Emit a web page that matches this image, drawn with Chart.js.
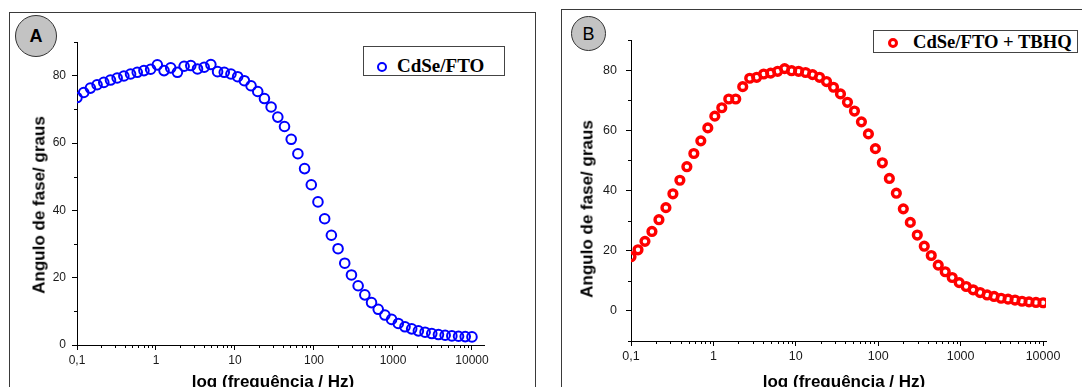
<!DOCTYPE html>
<html>
<head>
<meta charset="utf-8">
<script src="https://cdn.jsdelivr.net/npm/chart.js@4.4.1/dist/chart.umd.min.js"></script>
<style>
html,body{margin:0;padding:0;background:#fff;width:1082px;height:387px;overflow:hidden;position:relative}
.frame{position:absolute;border:1px solid #3a3a3a;box-sizing:border-box}
.cv{position:absolute;top:0}
.badge{position:absolute;border:1px solid #333;border-radius:50%;background:#c3c3c3;box-sizing:border-box;display:flex;align-items:center;justify-content:center;font-family:'Liberation Sans',Arial,sans-serif;color:#000;font-size:18px;line-height:1}
.legend{position:absolute;border:1px solid #444;background:#fff;box-sizing:border-box}
.ltxt{position:absolute;font-family:'Liberation Serif','Times New Roman',serif;font-weight:bold;color:#000;white-space:nowrap;line-height:1}
.mk{position:absolute;border-radius:50%;box-sizing:border-box;background:transparent}
.t{position:absolute;font-family:'Liberation Sans',Arial,sans-serif;font-weight:bold;color:#000;white-space:nowrap;line-height:1;font-size:17px}
</style>
</head>
<body>
<div class="frame" style="left:9px;top:12px;width:527px;height:420px"></div>
<div class="frame" style="left:561px;top:9px;width:540px;height:420px"></div>

<canvas id="chartA" class="cv" width="540" height="387" style="left:0px"></canvas>
<canvas id="chartB" class="cv" width="537" height="387" style="left:545px"></canvas>

<div class="badge" style="left:15px;top:15px;width:42px;height:42px;font-weight:bold">A</div>
<div class="badge" style="left:571px;top:16px;width:35px;height:35px;font-weight:normal">B</div>

<div class="legend" style="left:363px;top:46px;width:142px;height:30px"></div>
<div class="mk" style="left:377px;top:62px;width:10px;height:10px;border:2px solid #0000ff"></div>
<div class="ltxt" style="left:397px;top:56px;font-size:19px">CdSe/FTO</div>

<div class="legend" style="left:873px;top:30px;width:205px;height:23px"></div>
<div class="mk" style="left:888px;top:38px;width:10px;height:10px;border:3px solid #ff0000"></div>
<div class="ltxt" style="left:913px;top:32.8px;font-size:18.6px">CdSe/FTO + TBHQ</div>

<div class="t" style="left:39px;top:205px;transform:translate(-50%,-50%) rotate(-90deg)">Angulo de fase/ graus</div>
<div class="t" style="left:587px;top:209px;transform:translate(-50%,-50%) rotate(-90deg)">Angulo de fase/ graus</div>
<div class="t" style="left:273px;top:373px;transform:translateX(-50%)">log (frequência / Hz)</div>
<div class="t" style="left:844px;top:373px;transform:translateX(-50%)">log (frequência / Hz)</div>

<script>
// Frequencies (Hz) of the measured points
const freqHz = [0.1, 0.1216, 0.1477, 0.1795, 0.2183, 0.2653, 0.3225, 0.3919, 0.4764, 0.579,
  0.7037, 0.8553, 1.04, 1.264, 1.536, 1.867, 2.269, 2.758, 3.352, 4.075,
  4.952, 6.019, 7.316, 8.892, 10.81, 13.14, 15.97, 19.41, 23.59, 28.67,
  34.84, 42.35, 51.48, 62.56, 76.04, 92.43, 112.3, 136.5, 166.0, 201.7,
  245.2, 298.0, 362.2, 440.2, 535.1, 650.3, 790.4, 960.7, 1168, 1419,
  1725, 2097, 2548, 3098, 3765, 4576, 5562, 6760, 8216, 10000];

// Phase angle (degrees), panel A: CdSe/FTO
const phaseCdSe = [73.5, 75.0, 76.3, 77.3, 78.0, 78.7, 79.3, 79.9, 80.5, 81.0,
  81.5, 81.9, 83.2, 81.5, 82.3, 81.0, 82.8, 83.0, 82.0, 82.5,
  83.3, 81.2, 81.0, 80.5, 79.7, 78.5, 77.0, 75.3, 73.2, 70.7,
  67.7, 64.9, 61.1, 56.8, 52.4, 47.6, 42.5, 37.5, 32.6, 28.6,
  24.3, 20.8, 17.6, 14.9, 12.6, 10.6, 8.9, 7.6, 6.4, 5.4,
  4.8, 4.2, 3.8, 3.4, 3.1, 2.9, 2.7, 2.6, 2.5, 2.4];

// Phase angle (degrees), panel B: CdSe/FTO + TBHQ
const phaseCdSeTBHQ = [18.0, 20.3, 23.1, 26.4, 30.3, 34.3, 38.9, 43.4, 47.9, 52.3,
  56.5, 60.8, 64.7, 67.5, 70.4, 70.4, 74.5, 77.3, 77.6, 78.7,
  79.0, 79.6, 80.5, 79.8, 79.6, 79.2, 78.5, 77.6, 76.2, 74.3,
  72.1, 69.3, 66.4, 62.8, 58.8, 53.9, 49.2, 44.0, 39.1, 33.9,
  29.4, 25.2, 21.5, 18.4, 15.2, 13.0, 11.1, 9.4, 8.1, 7.0,
  6.1, 5.3, 4.8, 4.2, 3.9, 3.6, 3.2, 3.0, 2.8, 2.7];

const labelA = 'CdSe/FTO';
const labelB = 'CdSe/FTO + TBHQ';
const yLabelStep = 20;

function isPow10(v) { const l = Math.log10(v); return Math.abs(l - Math.round(l)) < 1e-6; }
function xLabel(v) { if (!isPow10(v)) return ''; return v < 1 ? String(v).replace('.', ',') : String(Math.round(v)); }

const minorTicks = {
  id: 'minorTicks',
  afterDraw(chart) {
    const ctx = chart.ctx, xs = chart.scales.x, ys = chart.scales.y;
    ctx.save();
    ctx.strokeStyle = '#000';
    ctx.lineWidth = 1;
    ctx.beginPath();
    xs.ticks.forEach(t => {
      const v = t.value;
      if (isPow10(v)) return;
      const m = v / Math.pow(10, Math.floor(Math.log10(v) + 1e-9));
      if (Math.abs(m - Math.round(m)) > 1e-6) return;
      const px = Math.round(xs.getPixelForValue(v)) + 0.5;
      ctx.moveTo(px, xs.top); ctx.lineTo(px, xs.top + 3);
    });
    ys.ticks.forEach(t => {
      if (t.value % yLabelStep === 0) return;
      const py = Math.round(ys.getPixelForValue(t.value)) + 0.5;
      ctx.moveTo(ys.right, py); ctx.lineTo(ys.right - 3, py);
    });
    ctx.stroke();
    ctx.restore();
  }
};

function makeChart(id, label, values, cfg) {
  const data = freqHz.map((f, i) => ({ x: f, y: values[i] }));
  return new Chart(document.getElementById(id), {
    type: 'scatter',
    data: { datasets: [{
      label: label,
      data: data,
      showLine: false,
      pointStyle: 'circle',
      pointRadius: cfg.r,
      pointBorderWidth: cfg.bw,
      pointBorderColor: cfg.color,
      pointBackgroundColor: 'rgba(0,0,0,0)',
      clip: 0
    }]},
    options: {
      responsive: false,
      animation: false,
      devicePixelRatio: 1,
      events: [],
      layout: { padding: { left: 0, top: cfg.padTop, right: cfg.padRight, bottom: 0 } },
      plugins: { legend: { display: false }, tooltip: { enabled: false } },
      scales: {
        x: {
          type: 'logarithmic',
          position: 'bottom',
          min: 0.1,
          max: cfg.xMax,
          border: { display: true, color: '#000', width: 1 },
          grid: {
            display: true, drawOnChartArea: false, drawTicks: true, tickLength: 5,
            color: '#000',
            tickColor: c => (c.tick && isPow10(c.tick.value)) ? '#000' : 'rgba(0,0,0,0)'
          },
          ticks: {
            autoSkip: false, maxRotation: 0, minRotation: 0, padding: 3,
            color: '#1a1a1a',
            font: { family: "'Liberation Sans', Arial, sans-serif", size: cfg.fs },
            callback: v => xLabel(v)
          },
          afterFit: s => { s.height = cfg.xH; }
        },
        y: {
          type: 'linear',
          position: 'left',
          min: cfg.yMin,
          max: 90,
          border: { display: true, color: '#000', width: 1 },
          grid: {
            display: true, drawOnChartArea: false, drawTicks: true, tickLength: 5,
            color: '#000',
            tickColor: c => (c.tick && c.tick.value % yLabelStep === 0) ? '#000' : 'rgba(0,0,0,0)'
          },
          ticks: {
            stepSize: 10, autoSkip: false, padding: cfg.yPad,
            color: '#1a1a1a',
            font: { family: "'Liberation Sans', Arial, sans-serif", size: cfg.fs },
            callback: v => (v % yLabelStep === 0 ? String(v) : '')
          },
          afterFit: s => { s.width = cfg.yW; }
        }
      }
    },
    plugins: [minorTicks]
  });
}

makeChart('chartA', labelA, phaseCdSe, {
  color: '#0000ff', r: 4.8, bw: 2,
  padTop: 42, padRight: 56, xH: 42, yW: 77, yMin: 0, xMax: 14200, fs: 12, yPad: 6
});
makeChart('chartB', labelB, phaseCdSeTBHQ, {
  color: '#ff0000', r: 3.9, bw: 3.4,
  padTop: 40, padRight: 36, xH: 46, yW: 86, yMin: -10, xMax: 10870, fs: 12.5, yPad: 9
});
</script>
</body>
</html>
